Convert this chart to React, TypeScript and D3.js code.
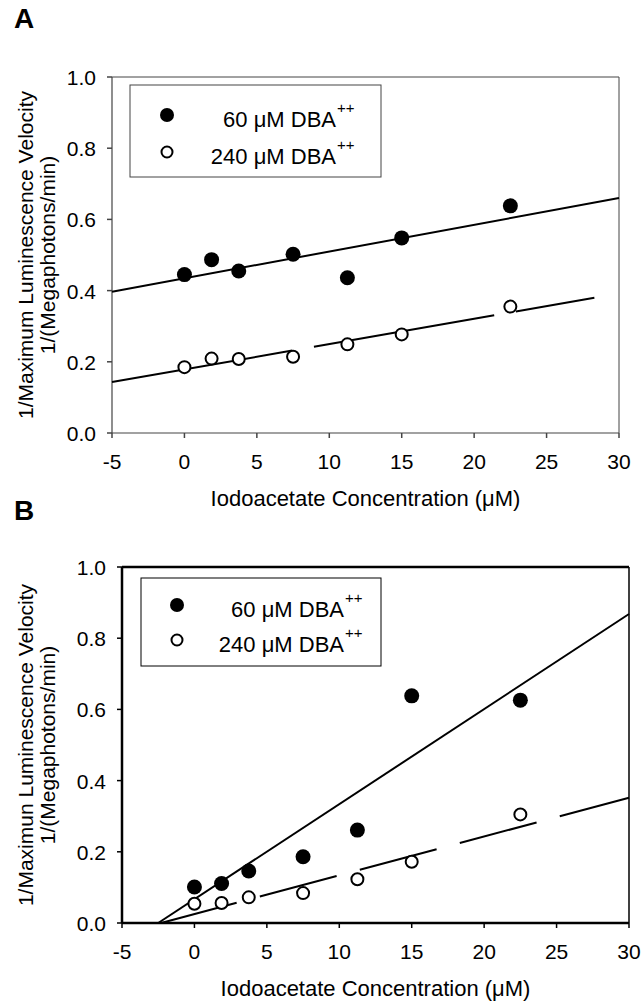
import React from 'react';
import * as d3 from 'd3';

// x positions shared by both panels (iodoacetate, uM)
const concentrations = [0, 1.875, 3.75, 7.5, 11.25, 15, 22.5];

// panel A values
const aLow = [0.445, 0.487, 0.455, 0.502, 0.436, 0.548, 0.638];
const aHigh = [0.185, 0.209, 0.208, 0.214, 0.249, 0.277, 0.355];
const aLowFit = [[-5, 0.397], [30, 0.66]];
const aHighFit = [[-5, 0.143], [28.3, 0.38]];

// panel B values
const bLow = [0.101, 0.111, 0.146, 0.186, 0.261, 0.638, 0.626];
const bHigh = [0.054, 0.056, 0.072, 0.084, 0.123, 0.172, 0.305];
const bLowFit = [[-2.5, 0], [30, 0.868]];
const bHighFit = [[-2.3, 0], [30, 0.352]];

const xTicks = [-5, 0, 5, 10, 15, 20, 25, 30];
const yTicks = [0, 0.2, 0.4, 0.6, 0.8, 1.0];
const legendLabels = ['60 \u03bcM DBA', '240 \u03bcM DBA'];
const xTitle = 'Iodoacetate Concentration (\u03bcM)';

const FONT = '"Liberation Sans", Arial, sans-serif';

const Panel = (props) => {
  const { letter, letterY, left, right, top, bottom, low, high, lowFit, highFit,
    yTitle, heavy, legend, dash, dashOffset, rFill } = props;

  const x = d3.scaleLinear().domain([-5, 30]).range([left, right]);
  const y = d3.scaleLinear().domain([0, 1]).range([bottom, top]);
  const line = d3.line().x(d => x(d[0])).y(d => y(d[1]));
  const frameColor = heavy ? '#000' : '#444';
  const midY = (top + bottom) / 2;

  return (
    <g>
      <text x={14} y={letterY} fontFamily={FONT} fontWeight='bold' fontSize={28}>{letter}</text>

      {/* frame */}
      <line x1={left} x2={right} y1={top} y2={top} stroke={frameColor} strokeWidth={heavy ? 2.5 : 1} />
      <line x1={right} x2={right} y1={top} y2={bottom} stroke={frameColor} strokeWidth={heavy ? 1.5 : 1} />
      <line x1={left} x2={left} y1={top} y2={bottom} stroke={frameColor} strokeWidth={heavy ? 2.5 : 1.2} />
      <line x1={left} x2={right} y1={bottom} y2={bottom} stroke={frameColor} strokeWidth={heavy ? 2.5 : 1.2} />

      {xTicks.map(t => (
        <g key={'x' + t}>
          <line x1={x(t)} x2={x(t)} y1={bottom} y2={bottom + 5} stroke={frameColor} strokeWidth={1.5} />
          <text x={x(t)} y={bottom + 36} textAnchor='middle' fontFamily={FONT} fontSize={21}>{t}</text>
        </g>
      ))}
      {yTicks.map(t => (
        <g key={'y' + t}>
          <line x1={left - 5} x2={left} y1={y(t)} y2={y(t)} stroke={frameColor} strokeWidth={1.5} />
          <text x={left - 16} y={y(t) + 8} textAnchor='end' fontFamily={FONT} fontSize={21}>{t.toFixed(1)}</text>
        </g>
      ))}

      <text x={(left + right) / 2} y={bottom + 73} textAnchor='middle' fontFamily={FONT} fontSize={22}>{xTitle}</text>
      <g transform={`translate(33,${midY}) rotate(-90)`}>
        <text x={0} y={0} textAnchor='middle' fontFamily={FONT} fontSize={21}>{yTitle}</text>
      </g>
      <g transform={`translate(55,${midY}) rotate(-90)`}>
        <text x={0} y={0} textAnchor='middle' fontFamily={FONT} fontSize={21}>1/(Megaphotons/min)</text>
      </g>

      {/* fitted lines */}
      <path d={line(lowFit)} fill='none' stroke='#000' strokeWidth={2} />
      <path d={line(highFit)} fill='none' stroke='#000' strokeWidth={2}
        strokeDasharray={dash} strokeDashoffset={dashOffset} />

      {concentrations.map((c, i) => (
        <circle key={'l' + i} cx={x(c)} cy={y(low[i])} r={rFill} fill='#000' />
      ))}
      {concentrations.map((c, i) => (
        <circle key={'h' + i} cx={x(c)} cy={y(high[i])} r={6} fill='#fff' stroke='#000' strokeWidth={2} />
      ))}

      {/* legend */}
      <rect x={legend.x} y={legend.y} width={legend.w} height={legend.h} fill='#fff' stroke={frameColor} strokeWidth={1} />
      {legendLabels.map((lab, i) => {
        const cy = legend.y + legend.row0 + i * legend.gap;
        return (
          <g key={lab}>
            {i === 0
              ? <circle cx={legend.x + legend.mx} cy={cy} r={7} fill='#000' />
              : <circle cx={legend.x + legend.mx} cy={cy} r={5.5} fill='#fff' stroke='#000' strokeWidth={2} />}
            <text x={legend.x + legend.tx} y={cy + 12} textAnchor='end' fontFamily={FONT} fontSize={22}>{lab}</text>
            <text x={legend.x + legend.tx + 1} y={cy - 2} fontFamily={FONT} fontSize={15}>++</text>
          </g>
        );
      })}
    </g>
  );
};

export default function App() {
  return (
    <svg width={642} height={1001} style={{ position: 'absolute', left: 0, top: 0, background: '#fff' }}>
      <Panel letter='A' letterY={28} left={112} right={619} top={77} bottom={433}
        low={aLow} high={aHigh} lowFit={aLowFit} highFit={aHighFit}
        yTitle='1/Maximum Luminescence Velocity' heavy={false} rFill={7.5}
        dash='183 22' dashOffset={0}
        legend={{ x: 130, y: 85, w: 251, h: 92, mx: 37, row0: 30, gap: 37, tx: 206 }} />
      <Panel letter='B' letterY={520} left={122} right={629} top={567} bottom={923}
        low={bLow} high={bHigh} lowFit={bLowFit} highFit={bHighFit}
        yTitle='1/Maximun Luminescence Velocity' heavy={true} rFill={7.5}
        dash='79.5 24' dashOffset={1.3}
        legend={{ x: 141, y: 578, w: 240, h: 88, mx: 36, row0: 27, gap: 35, tx: 203 }} />
    </svg>
  );
}
